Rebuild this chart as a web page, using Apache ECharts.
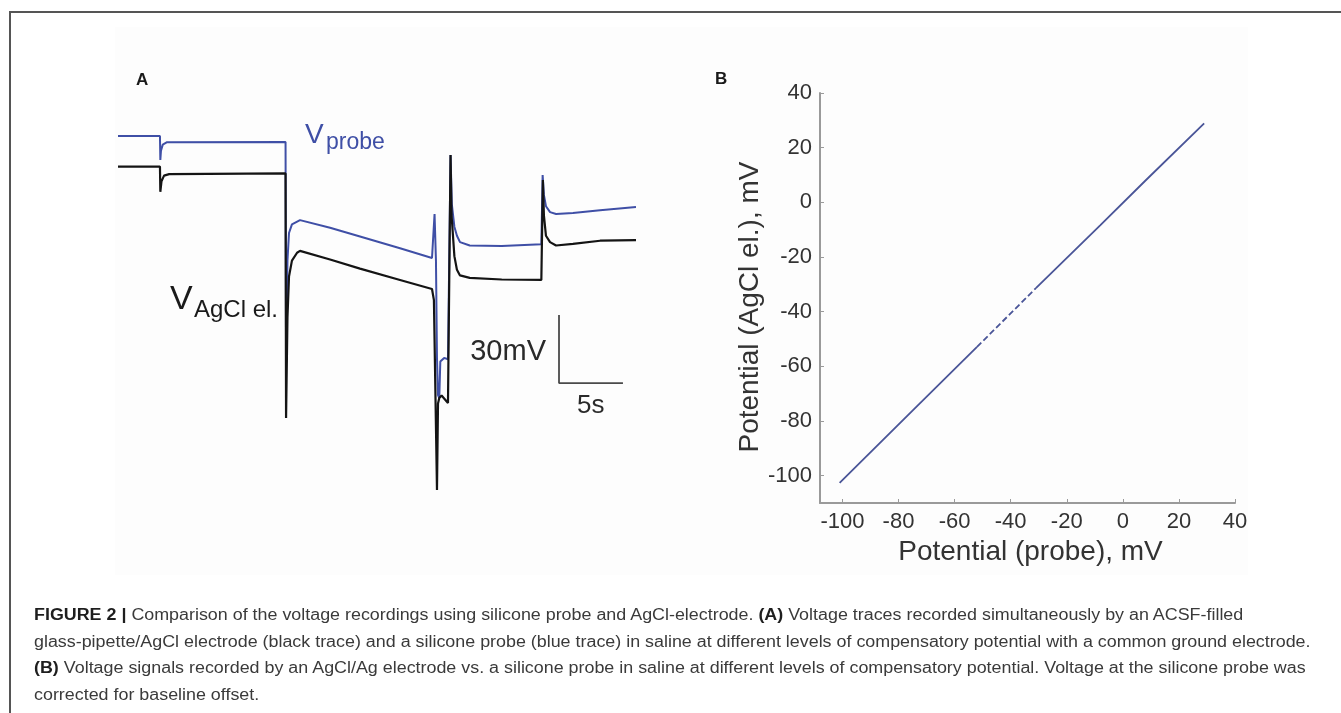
<!DOCTYPE html>
<html><head><meta charset="utf-8">
<script src="https://cdn.jsdelivr.net/npm/echarts@6/dist/echarts.min.js"></script>
<style>
html,body{margin:0;padding:0;background:#fff;overflow:hidden;}
#chart{position:absolute;left:0;top:0;width:1341px;height:713px;}
#frame{position:absolute;left:9px;top:11px;width:1400px;height:800px;border-left:2px solid #555;border-top:2px solid #555;}
.cap{position:absolute;left:34px;white-space:nowrap;font-family:"Liberation Sans",Arial,sans-serif;font-size:16px;color:#3a3a3a;transform-origin:0 50%;line-height:20px;height:20px;}
.cap b{color:#1e1e1e;}
</style></head><body>
<div id="chart"></div>
<div id="frame"></div>
<div class="cap" id="c1" style="top:605px"><b>FIGURE 2 |</b> Comparison of the voltage recordings using silicone probe and AgCl-electrode. <b>(A)</b> Voltage traces recorded simultaneously by an ACSF-filled</div>
<div class="cap" id="c2" style="top:632px">glass-pipette/AgCl electrode (black trace) and a silicone probe (blue trace) in saline at different levels of compensatory potential with a common ground electrode.</div>
<div class="cap" id="c3" style="top:658px"><b>(B)</b> Voltage signals recorded by an AgCl/Ag electrode vs. a silicone probe in saline at different levels of compensatory potential. Voltage at the silicone probe was</div>
<div class="cap" id="c4" style="top:685px">corrected for baseline offset.</div>
<script>
// ---- Panel A: voltage traces (time in s, potential in mV, relative) ----
const probeTime = [0, 3.28, 3.31, 3.36, 3.5, 3.8, 13.1, 13.14, 13.25, 13.37, 13.6, 14.23, 16.58, 18.92, 22.05, 24.55, 24.68, 24.75, 24.86, 24.94, 25.02, 25.12, 25.2, 25.5, 25.8, 25.95, 26.0, 26.1, 26.3, 26.5, 26.74, 27.5, 30.0, 33.1, 33.15, 33.2, 33.3, 33.46, 33.78, 34.25, 35.57, 37.69, 40.5];
const probeMv = [0, 0, -10.6, -6.5, -3.8, -2.8, -2.6, -100, -55, -42.8, -39, -37.1, -40.5, -44.3, -49.5, -53.8, -54.2, -34.4, -55, -98, -114.3, -115.6, -99.5, -97.9, -98.5, -98.8, -8.4, -30, -40, -44, -46.8, -48.3, -48.5, -47.8, -47.6, -17.2, -26, -31, -33.6, -34.4, -34, -32.8, -31.3];
const agclTime = [0, 3.28, 3.31, 3.4, 3.6, 4.0, 13.1, 13.14, 13.25, 13.37, 13.6, 14.0, 14.23, 16.58, 18.92, 22.05, 24.55, 24.7, 24.94, 25.02, 25.12, 25.3, 25.5, 25.8, 25.95, 26.0, 26.08, 26.3, 26.5, 26.74, 27.5, 30.0, 33.1, 33.15, 33.22, 33.3, 33.46, 33.78, 34.25, 35.57, 37.69, 40.5];
const agclMv = [-13.5, -13.5, -24.6, -20, -17.5, -16.8, -16.5, -124.4, -80, -62, -55, -51.5, -50.7, -54.5, -58.5, -63.5, -67.5, -72.4, -156.2, -118, -115.6, -114.5, -115.8, -117.8, -117.8, -8.4, -35, -53, -59, -61.5, -62.6, -63.3, -63.5, -63.5, -19.4, -35, -44, -46.8, -48.3, -47.6, -46.2, -45.9];
// scale bar: 30 mV vertical, 5 s horizontal
const scaleBarTime = [34.48, 34.48, 39.48];
const scaleBarMv = [-79, -109, -109];
const scaleBarLabels = ['30mV', '5s'];
const traceLabels = ['V', 'probe', 'V', 'AgCl el.'];
const panelLabels = ['A', 'B'];

// ---- Panel B: AgCl electrode vs probe ----
const probeSolid1 = [-101, -75, -52];
const agclSolid1 = [-102.6, -76.2, -52.9];
const probeDashed = [-52, -31];
const agclDashed = [-52.9, -31.4];
const probeSolid2 = [-31, -8, 8, 29];
const agclSolid2 = [-31.4, -8.3, 7.9, 28.9];
const tickValues = [-100, -80, -60, -40, -20, 0, 20, 40];
const xTitle = 'Potential (probe), mV';
const yTitle = 'Potential (AgCl el.), mV';

const zip = (a, b) => a.map((v, i) => [v, b[i]]);
const FONT = '"Liberation Sans", Arial, sans-serif';
const BLUE = '#3f4fa6';
const BLUE_B = '#4a5598';
const AXIS = '#9a9a9a';

const chart = echarts.init(document.getElementById('chart'), null, {renderer: 'canvas'});

function axisB(name, gap, fs, pad) {
  return {
    type: 'value', min: -108, max: 40, name: name, nameLocation: 'middle', nameGap: gap,
    nameTextStyle: {fontFamily: FONT, fontSize: fs, color: '#333', padding: pad},
    axisLine: {show: true, onZero: false, lineStyle: {color: AXIS, width: 2}},
    axisTick: {show: true, inside: true, length: 4, customValues: tickValues, lineStyle: {color: AXIS, width: 1}},
    axisLabel: {show: true, customValues: tickValues, fontFamily: FONT, fontSize: 22, color: '#333', margin: 8},
    splitLine: {show: false}
  };
}

const yB = axisB(yTitle, 52, 28, [0, 18, 0, 0]); yB.min = -110;

const option = {
  animation: false,
  backgroundColor: '#ffffff',
  grid: [
    {left: 118, top: 90.67, width: 518, height: 430.67},
    {left: 820, top: 93, width: 415, height: 410}
  ],
  xAxis: [
    {gridIndex: 0, type: 'value', min: 0, max: 40.5, show: false},
    Object.assign({gridIndex: 1}, axisB(xTitle, 33, 28, [0, 0, 0, 6]))
  ],
  yAxis: [
    {gridIndex: 0, type: 'value', min: -170, max: 20, show: false},
    Object.assign({gridIndex: 1}, yB)
  ],
  series: [
    {type: 'line', xAxisIndex: 0, yAxisIndex: 0, data: zip(probeTime, probeMv), showSymbol: false,
     lineStyle: {color: BLUE, width: 2}, z: 2},
    {type: 'line', xAxisIndex: 0, yAxisIndex: 0, data: zip(agclTime, agclMv), showSymbol: false,
     lineStyle: {color: '#141414', width: 2.2}, z: 3},
    {type: 'line', xAxisIndex: 0, yAxisIndex: 0, data: zip(scaleBarTime, scaleBarMv), showSymbol: false,
     lineStyle: {color: '#4a4a4a', width: 1.8}, z: 3},
    {type: 'line', xAxisIndex: 1, yAxisIndex: 1, data: zip(probeSolid1, agclSolid1), showSymbol: false,
     lineStyle: {color: BLUE_B, width: 1.8}},
    {type: 'line', xAxisIndex: 1, yAxisIndex: 1, data: zip(probeDashed, agclDashed), showSymbol: false,
     lineStyle: {color: BLUE_B, width: 1.8, type: [6, 3]}},
    {type: 'line', xAxisIndex: 1, yAxisIndex: 1, data: zip(probeSolid2, agclSolid2), showSymbol: false,
     lineStyle: {color: BLUE_B, width: 1.8}}
  ],
  graphic: [
    {type: 'rect', z: -10, shape: {x: 115, y: 27, width: 1133, height: 548}, style: {fill: '#fdfdfd'}},
    {type: 'text', x: 136, y: 80, style: {text: panelLabels[0], font: 'bold 17px ' + FONT, fill: '#1a1a1a', verticalAlign: 'middle'}},
    {type: 'text', x: 715, y: 79, style: {text: panelLabels[1], font: 'bold 17px ' + FONT, fill: '#1a1a1a', verticalAlign: 'middle'}},
    {type: 'text', x: 305, y: 135, style: {text: traceLabels[0], font: '28px ' + FONT, fill: BLUE, verticalAlign: 'middle'}},
    {type: 'text', x: 326, y: 142.5, style: {text: traceLabels[1], font: '23px ' + FONT, fill: BLUE, verticalAlign: 'middle'}},
    {type: 'text', x: 170, y: 300, style: {text: traceLabels[2], font: '34px ' + FONT, fill: '#1a1a1a', verticalAlign: 'middle'}},
    {type: 'text', x: 194, y: 310, style: {text: traceLabels[3], font: '24px ' + FONT, fill: '#1a1a1a', verticalAlign: 'middle'}},
    {type: 'text', x: 546, y: 352, style: {text: scaleBarLabels[0], font: '29px ' + FONT, fill: '#2a2a2a', align: 'right', verticalAlign: 'middle'}},
    {type: 'text', x: 577, y: 406, style: {text: scaleBarLabels[1], font: '26px ' + FONT, fill: '#2a2a2a', verticalAlign: 'middle'}}
  ]
};
chart.setOption(option);

// fit caption lines to the width of the reference text block
const c2 = document.getElementById('c2');
const scale = 1277 / c2.scrollWidth;
['c1', 'c2', 'c3', 'c4'].forEach(id => {
  document.getElementById(id).style.transform = 'scaleX(' + scale + ')';
});
</script>
</body></html>
